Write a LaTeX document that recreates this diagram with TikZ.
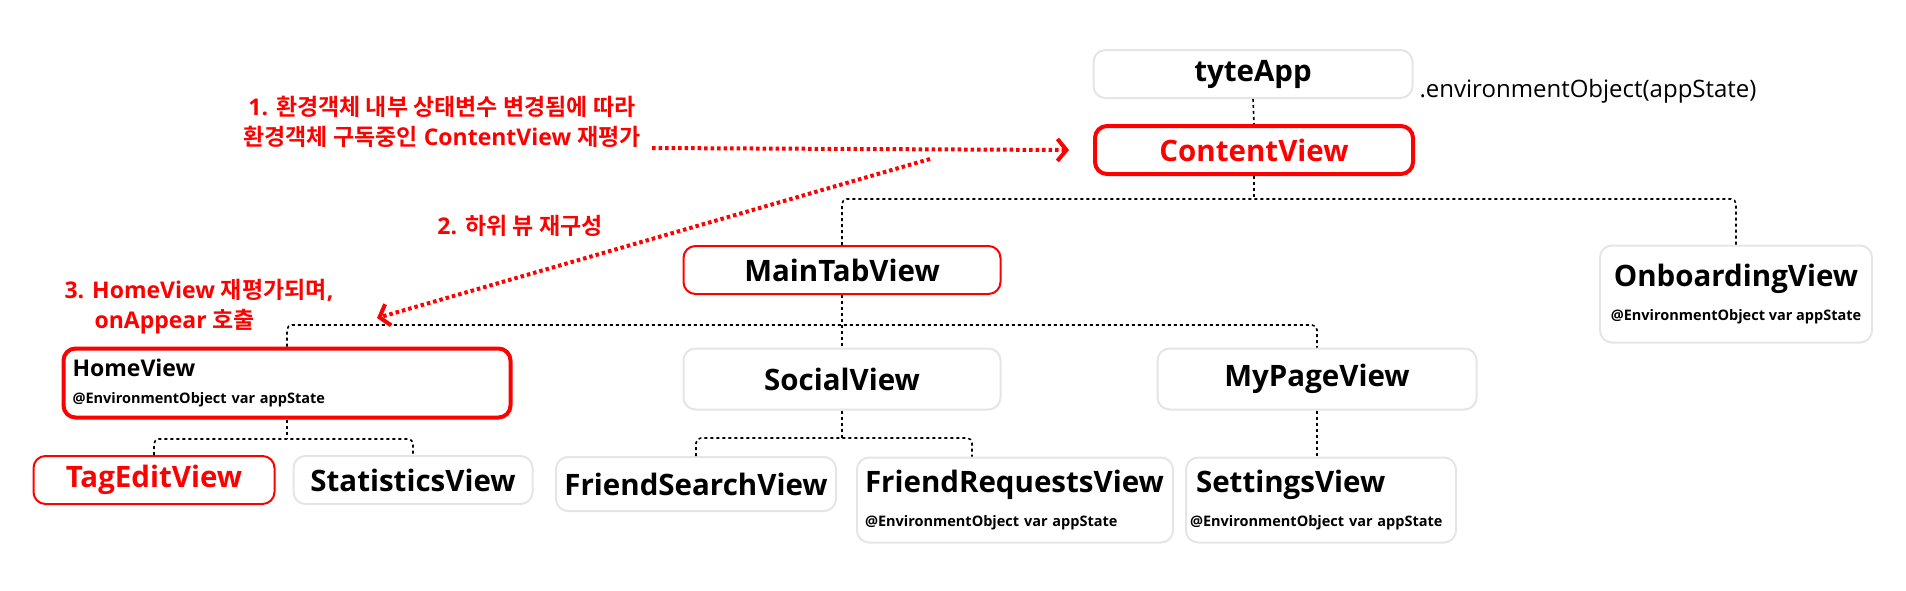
\documentclass[tikz,border=0pt]{standalone}
\usepackage{fontspec}
\setmainfont{Open Sans}
\newfontfamily\krfont{Noto Sans CJK KR}[BoldFont={Noto Sans CJK KR Bold}]
\usetikzlibrary{arrows.meta, positioning}

\newcommand{\titlefont}{\fontsize{29.5}{34}\selectfont\bfseries}
\newcommand{\homefont}{\fontsize{23}{27}\selectfont\bfseries}
\newcommand{\subfont}{\fontsize{14.5}{27}\selectfont\bfseries}
\newcommand{\envfont}{\fontsize{24}{28}\selectfont}
\newcommand{\notefont}{\fontsize{23}{30}\selectfont\bfseries}
\newcommand{\kr}[1]{{\krfont #1}}

\begin{document}
\begin{tikzpicture}[x=1pt, y=-1pt,
  viewbox/.style={draw=black!10, line width=2pt, rounded corners=12pt,
    minimum height=48pt, inner sep=0pt, font=\titlefont},
  redbox/.style={viewbox, draw=red},
  hotbox/.style={viewbox, draw=red, line width=4pt},
  tree/.style={line width=1.6pt, dash pattern=on 3pt off 3pt, rounded corners=5pt},
  flow/.style={red, line width=4pt, dash pattern=on 3.5pt off 3pt,
    -{Straight Barb[length=9pt, width=22pt, line width=4pt]}},
  note/.style={red, font=\notefont, align=center}]
  \useasboundingbox (0,0) rectangle (1906,590);

  % root of the app
  \node[viewbox, minimum width=319pt] (app) at (1253,74) {tyteApp};
  \node[anchor=west, font=\envfont] (envmod) at (1416,91) {.environmentObject(appState)};
  \node[hotbox, minimum width=318pt, text=red] (content) at (1254,150) {ContentView};

  % second level
  \node[redbox, minimum width=317pt] (mtab) at (842,270) {MainTabView};
  \node[viewbox, minimum width=272pt, minimum height=97pt, align=center, font=\subfont] (onb) at (1736,294)
    {{\titlefont OnboardingView}\\[7pt]@EnvironmentObject var appState};

  % tabs
  \node[hotbox, minimum width=447pt, minimum height=69pt, text width=429pt,
    inner xsep=9pt, align=left, font=\subfont] (home) at (287,383)
    {{\homefont HomeView}\\@EnvironmentObject var appState};
  \node[viewbox, minimum width=317pt, minimum height=61pt] (social) at (842,379) {SocialView};
  \node[viewbox, minimum width=319pt, minimum height=61pt] (mypage) at (1317,379) {MyPageView};

  % leaves
  \node[redbox, minimum width=241pt, text=red] (tagedit) at (154,480) {TagEditView};
  \node[viewbox, minimum width=239pt] (stats) at (413,480) {StatisticsView};
  \node[viewbox, minimum width=280pt, minimum height=54pt] (fsearch) at (696,484) {FriendSearchView};
  \node[viewbox, minimum width=316pt, minimum height=85pt, text width=300pt,
    inner xsep=8pt, align=left, font=\subfont] (freq) at (1015,500)
    {{\titlefont FriendRequestsView}\\[7pt]@EnvironmentObject var appState};
  \node[viewbox, minimum width=270pt, minimum height=85pt, text width=262pt,
    inner xsep=4pt, align=left, font=\subfont] (settings) at (1321,500)
    {\hspace*{6pt}{\titlefont SettingsView}\\[7pt]@EnvironmentObject var appState};

  % hierarchy lines
  \coordinate (cj) at (1254,199);
  \coordinate (mj) at (842,325);
  \coordinate (hj) at (287,439);
  \coordinate (sj) at (842,438);
  \draw[tree] (app.south) -- (content.north);
  \draw[tree] (content.south) -- (cj);
  \draw[tree] (mtab.north) |- (cj) -| (onb.north);
  \draw[tree] (mtab.south) -- (mj);
  \draw[tree] (home.north) |- (mj) -| (mypage.north);
  \draw[tree] (mj) -- (social.north);
  \draw[tree] (home.south) -- (hj);
  \draw[tree] (tagedit.north) |- (hj) -| (stats.north);
  \draw[tree] (social.south) -- (sj);
  \draw[tree] (fsearch.north) |- (sj) -| ([xshift=-43pt]freq.north);
  \draw[tree] (mypage.south) -- (mypage.south |- settings.north);

  % update flow notes
  \node[note] (note1) at (442,122) {1. \kr{환경객체 내부 상태변수 변경됨에 따라}\\\kr{환경객체 구독중인} ContentView \kr{재평가}};
  \node[note] (note2) at (520,226) {2. \kr{하위 뷰 재구성}};
  \node[note, align=left, anchor=west] (note3) at (61,307)
    {3. HomeView \kr{재평가되며},\\\hspace*{30pt}onAppear \kr{호출}};

  \coordinate (f1) at (652,148);
  \coordinate (f2) at (930,159);
  \coordinate (f3) at (377,318);
  \draw[flow] (f1) -- ([xshift=-24pt]content.west);
  \draw[flow] (f2) -- (f3);
\end{tikzpicture}
\end{document}
